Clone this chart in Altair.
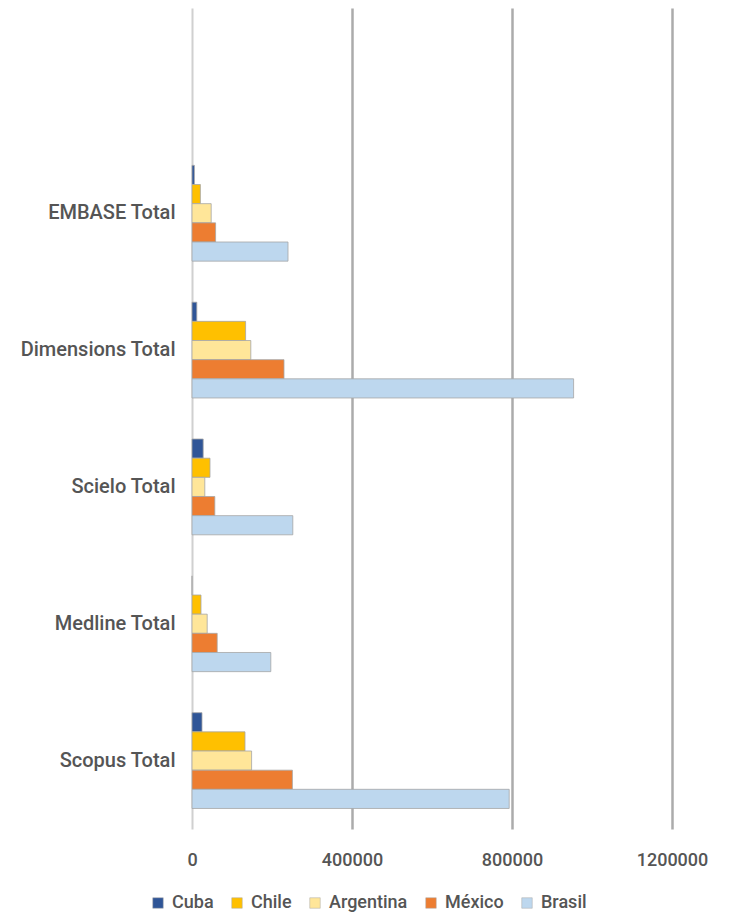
import altair as alt
import pandas as pd

databases = ["EMBASE Total", "Dimensions Total", "Scielo Total", "Medline Total", "Scopus Total"]
countries = ["Cuba", "Chile", "Argentina", "México", "Brasil"]
colors = ["#2F5597", "#FFC000", "#FFE699", "#ED7D31", "#BDD7EE"]

cuba = [6000, 12000, 28000, 0, 25000]
chile = [21000, 134000, 45000, 22500, 132500]
argentina = [48000, 147000, 32000, 38000, 149000]
mexico = [59000, 230000, 57000, 63000, 251000]
brasil = [240000, 954000, 252000, 197000, 793000]

series = [cuba, chile, argentina, mexico, brasil]
rows = []
for c, vals in zip(countries, series):
    for d, v in zip(databases, vals):
        rows.append({"db": d, "country": c, "value": v})
df = pd.DataFrame(rows)

FONT = "Roboto"
GRAY = "#555555"

chart = alt.Chart(df).mark_bar(stroke="#A6A6A6", strokeWidth=0.8).encode(
    y=alt.Y("db:N", scale=alt.Scale(domain=[""] + databases, paddingInner=0.3, paddingOuter=0.15),
            axis=alt.Axis(title=None, ticks=False, domain=False, labelPadding=17,
                          labelFontSize=20, labelFontWeight=500, labelColor=GRAY, labelFont=FONT,
                          minExtent=179, maxExtent=179)),
    yOffset=alt.YOffset("country:N", sort=countries, scale=alt.Scale(paddingInner=0, paddingOuter=0)),
    x=alt.X("value:Q", scale=alt.Scale(domain=[0, 1200000], nice=False),
            axis=alt.Axis(title=None, values=[0, 400000, 800000, 1200000], format="d",
                          ticks=False, domain=False, labelPadding=22, labelFontSize=18,
                          labelFontWeight=500, labelFlush=False,
                          labelColor=GRAY, labelFont=FONT,
                          gridColor={"condition": {"test": "datum.value === 0", "value": "#D0D0D0"}, "value": "#ABABAB"},
                          gridWidth={"condition": {"test": "datum.value === 0", "value": 2}, "value": 2.5})),
    color=alt.Color("country:N", sort=countries,
                    scale=alt.Scale(domain=countries, range=colors),
                    legend=alt.Legend(title=None, orient="none", direction="horizontal",
                                      legendX=-43, legendY=886, symbolType="square",
                                      symbolSize=110, symbolStrokeWidth=0.5, symbolStrokeColor="#A6A6A6",
                                      labelFontSize=18, labelFontWeight=500, labelColor=GRAY, labelFont=FONT,
                                      labelOffset=5, columnPadding=14)),
).properties(
    width=480, height=821,
    padding={"left": 5, "top": 0, "right": 5, "bottom": 0},
).configure_view(stroke=None)

chart.save("out.html", embed_options={"renderer": "svg", "actions": False})
